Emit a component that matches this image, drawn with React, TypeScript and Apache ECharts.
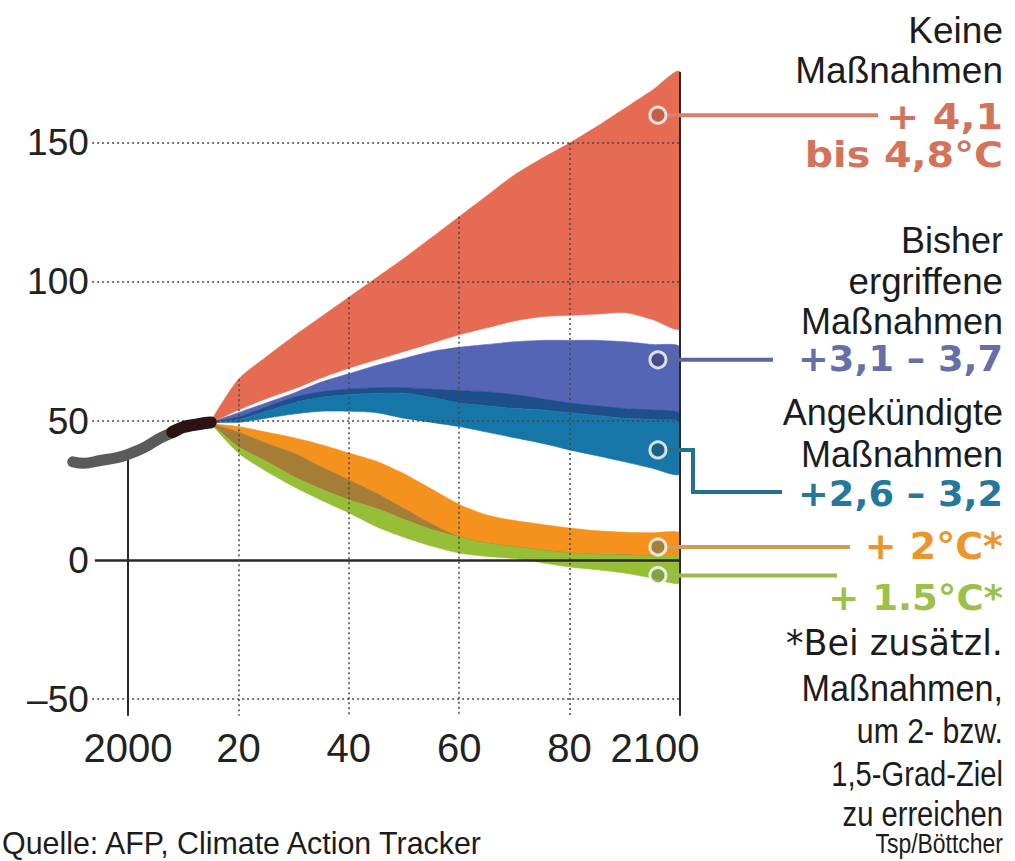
import React, { useEffect, useRef } from "react";
import * as echarts from "echarts";

// ---------- data ----------
const histYears = [1990, 1992, 1995, 1998, 2000, 2003, 2006, 2009];
const histValues = [35.3, 34.8, 35.8, 36.8, 38, 40.5, 44, 46.6];
const histRecentYears = [2008, 2010, 2012, 2014, 2015];
const histRecentValues = [46, 47.8, 48.6, 49.3, 49.5];

const years = [2015, 2020, 2025, 2030, 2035, 2040, 2045, 2050, 2055, 2060, 2065, 2070, 2075, 2080, 2085, 2090, 2095, 2100];
// "Keine Maßnahmen" range
const keineHi = [50, 65, 73, 80.5, 87.5, 94.5, 101.5, 108.5, 116, 123.5, 131, 138.5, 144.5, 150, 156, 162.5, 169, 175.5];
const keineLo = [49.5, 54, 58, 61.5, 65.5, 69, 72, 75, 78, 81, 83.5, 86, 87.5, 88, 88.5, 89, 86.5, 83.5];
// "Bisher ergriffene Maßnahmen" range
const bisherHi = [49.5, 53, 56.5, 60, 64, 67, 70, 72.5, 75, 76.5, 77.5, 78.5, 79, 79, 79, 78.5, 77.5, 76.5];
const bisherLo = [49.5, 50.5, 53.5, 56.5, 58.5, 59.5, 60, 60, 58.5, 56.5, 55.5, 54.5, 54, 53, 52, 51, 50.5, 49.5];
// "Angekündigte Maßnahmen" range
const angekHi = [49.5, 51.5, 55, 58.5, 60.5, 61.5, 62, 62, 61.5, 61, 60.5, 59.5, 58, 56.5, 55.5, 54.5, 54, 53];
const angekLo = [49.5, 49.5, 51, 52.5, 53.5, 53.5, 53, 51, 49.5, 48, 46, 44, 42, 39.6, 37.5, 35.3, 33, 31];
// "+2°C" range
const zweiHi = [49, 48, 46, 44, 41.5, 38.5, 35.5, 31, 25.5, 20, 16.2, 14.2, 12.8, 11.5, 10.5, 10, 9.8, 9.7];
const zweiLo = [49, 40.7, 35.5, 30, 25.5, 21.6, 18.5, 14.6, 11, 8.3, 6, 4.8, 3.5, 2.5, 2, 1.8, 1.4, 1];
// "+1.5°C" range
const einsHi = [49, 46, 42, 38.5, 33.5, 28.8, 24, 18.5, 13, 8.3, 6, 4.8, 3.5, 2.5, 2, 1.8, 1.4, 1];
const einsLo = [49, 38.5, 32, 26.4, 21.5, 17, 12, 8.2, 5, 2.5, 1.3, 0.5, -1, -2.5, -3.5, -4.7, -6.5, -8.3];

const markerYear = 2096;
const markerValues = [160, 72, 39.6, 4.7, -5.6];

const xTicks = [2000, 2020, 2040, 2060, 2080, 2100];
const yTicks = [-50, 0, 50, 100, 150];

// ---------- style ----------
const FONT = "'Liberation Sans', Arial, sans-serif";
const FONT_WIDE = "'DejaVu Sans', sans-serif";
const C = {
  red: "#E56C52",
  blue: "#5565B5",
  navy: "#1E4E8C",
  teal: "#1676A8",
  orange: "#F5921E",
  olive: "#A57D37",
  green: "#96BE37",
};

function band(name: string, lower: number[], upper: number[], color: string) {
  return {
    type: "custom",
    name,
    coordinateSystem: "cartesian2d",
    silent: true,
    z: 2,
    clip: true,
    encode: { x: 0, y: [1, 2] },
    data: years.map((y, i) => [y, lower[i], upper[i]]),
    renderItem: (params: any, api: any) => {
      if (params.dataIndex !== 0) return null;
      const top = years.map((y, i) => api.coord([y, upper[i]]));
      const bot = years.map((y, i) => api.coord([y, lower[i]])).reverse();
      return {
        type: "polygon",
        shape: { points: top.concat(bot), smooth: 0.25 },
        style: { fill: color, stroke: color, lineWidth: 0.6 },
      };
    },
  };
}

function minArr(a: number[], b: number[]) {
  return a.map((v, i) => Math.min(v, b[i]));
}

export default function App() {
  const ref = useRef<HTMLDivElement>(null);
  useEffect(() => {
    document.body.style.margin = "0";
    const chart = echarts.init(ref.current!, undefined, { renderer: "svg" });
    const idx = (y: number) => years.indexOf(y);
    const dotted = { type: [2, 3] as any, color: "rgba(70,70,70,0.75)", width: 2 };
    const solid = { type: "solid" as any, color: "#2a2a2a", width: 2 };
    const gridLines: any[] = [];
    [150, 100, 50, -50].forEach((v) =>
      gridLines.push([{ coord: [1993.5, v], lineStyle: dotted }, { coord: [2100, v] }])
    );
    gridLines.push([{ coord: [1994, 0], lineStyle: { ...solid, width: 2.5 } }, { coord: [2100, 0] }]);
    gridLines.push([
      { coord: [2000, histValues[histYears.indexOf(2000)]], lineStyle: solid },
      { coord: [2000, -56] },
    ]);
    gridLines.push([{ coord: [2100, keineHi[idx(2100)]], lineStyle: solid }, { coord: [2100, -56] }]);
    [2020, 2040, 2060, 2080].forEach((y) =>
      gridLines.push([{ coord: [y, keineHi[idx(y)]], lineStyle: dotted }, { coord: [y, -56] }])
    );

    const option: any = {
      animation: false,
      backgroundColor: "#ffffff",
      grid: { left: 72.8, right: 335, top: 70.7, bottom: 145.3 },
      xAxis: {
        type: "value",
        min: 1990,
        max: 2100,
        axisLine: { show: false },
        axisTick: { show: false },
        splitLine: { show: false },
        axisLabel: {
          customValues: xTicks,
          fontSize: 40,
          fontFamily: FONT,
          color: "#222",
          margin: 12,
          formatter: (v: number) =>
            v === 2000 ? "2000" : v === 2100 ? "{r|2100}" : String(v).slice(2),
          rich: { r: { fontSize: 40, fontFamily: FONT, color: "#222", padding: [0, 50, 0, 0] } },
        },
      },
      yAxis: {
        type: "value",
        min: -56,
        max: 176,
        axisLine: { show: false },
        axisTick: { show: false },
        splitLine: { show: false },
        axisLabel: {
          customValues: yTicks,
          fontSize: 37,
          fontFamily: FONT,
          color: "#222",
          margin: -16,
          formatter: (v: number) => (v < 0 ? "–" + Math.abs(v) : String(v)),
        },
      },
      series: [
        band("keine", keineLo, keineHi, C.red),
        band("bisher", angekHi, bisherHi, C.blue),
        band("overlapBlue", bisherLo, angekHi, C.navy),
        band("angek", angekLo, bisherLo, C.teal),
        band("zwei", einsHi, zweiHi, C.orange),
        band("overlapGreen", zweiLo, einsHi, C.olive),
        band("eins", einsLo, minArr(zweiLo, einsHi), C.green),
        {
          type: "line",
          name: "hist",
          data: histYears.map((y, i) => [y, histValues[i]]),
          symbol: "none",
          smooth: 0.4,
          silent: true,
          z: 8,
          lineStyle: { color: "#5a5a5a", width: 11, cap: "round", join: "round" },
          markLine: {
            silent: true,
            symbol: "none",
            label: { show: false },
            z: 6,
            data: gridLines,
          },
        },
        {
          type: "line",
          name: "histRecent",
          data: histRecentYears.map((y, i) => [y, histRecentValues[i]]),
          symbol: "none",
          smooth: 0.4,
          silent: true,
          z: 9,
          lineStyle: { color: "#2d1313", width: 12, cap: "round", join: "round" },
        },
        {
          type: "scatter",
          name: "markers",
          data: markerValues.map((v) => [markerYear, v]),
          symbol: "circle",
          symbolSize: 16,
          silent: true,
          z: 20,
          itemStyle: {
            borderColor: "#ffffff",
            borderWidth: 3,
            color: (p: any) => ["#b85a48", "#3f4a82", "#1d5c7a", "#8e7d45", "#7c9a4a"][p.dataIndex],
          },
        },
      ],
    };
    chart.setOption(option);

    const px = markerValues.map((v) => chart.convertToPixel({ gridIndex: 0 }, [markerYear, v]) as number[]);
    const lineColors = ["#D8806C", "#5D6797", "#24708F", "#D49B55", "#9BBA55"];
    const lineEnds = [878, 773, 782, 850, 837];
    const conn: any[] = px.map((p, i) => {
      if (i === 2) {
        const ex = 693;
        const ty = 492;
        return {
          type: "polyline",
          z: 15,
          shape: { points: [[p[0] + 8, p[1]], [ex, p[1]], [ex, ty], [lineEnds[i], ty]] },
          style: { stroke: lineColors[i], lineWidth: 4, fill: "none" },
        };
      }
      return {
        type: "line",
        z: 15,
        shape: { x1: p[0] + 8, y1: p[1], x2: lineEnds[i], y2: p[1] },
        style: { stroke: lineColors[i], lineWidth: 4 },
      };
    });

    const R = 1003;
    const t = (
      text: string,
      y: number,
      opts: { size?: number; family?: string; weight?: string; color?: string; sx?: number; x?: number; align?: string } = {}
    ) => ({
      type: "text",
      x: opts.x ?? R,
      y,
      scaleX: opts.sx ?? 1,
      z: 30,
      style: {
        text,
        x: 0,
        y: 0,
        align: opts.align ?? "right",
        verticalAlign: "middle",
        fill: opts.color ?? "#1c1c1c",
        font: `${opts.weight ?? "normal"} ${opts.size ?? 36}px ${opts.family ?? FONT}`,
      },
    });
    const BOLD = { family: FONT_WIDE, weight: "bold" };
    const texts = [
      t("Keine", 30, { size: 37 }),
      t("Maßnahmen", 70, { size: 37 }),
      t("+ 4,1", 117, { ...BOLD, size: 36, color: "#D4735C", sx: 1.1 }),
      t("bis 4,8°C", 155, { ...BOLD, size: 36, color: "#D4735C", sx: 1.1 }),
      t("Bisher", 240),
      t("ergriffene", 282, { sx: 1.02 }),
      t("Maßnahmen", 321),
      t("+3,1 – 3,7", 359, { ...BOLD, size: 35, sx: 1.05, color: "#6670A8" }),
      t("Angekündigte", 412),
      t("Maßnahmen", 454),
      t("+2,6 – 3,2", 494, { ...BOLD, size: 35, sx: 1.05, color: "#24789C" }),
      t("+ 2°C*", 546, { ...BOLD, size: 38, color: "#EB962D" }),
      t("+ 1.5°C*", 598, { ...BOLD, size: 36, sx: 1.03, color: "#9CC048" }),
      t("*Bei zusätzl.", 643, { family: FONT_WIDE, size: 35 }),
      t("Maßnahmen,", 688, { sx: 0.95 }),
      t("um 2- bzw.", 731, { sx: 0.84 }),
      t("1,5-Grad-Ziel", 773, { sx: 0.81 }),
      t("zu erreichen", 813, { sx: 0.81 }),
      t("Tsp/Böttcher", 843, { size: 27, sx: 0.85 }),
      t("Quelle: AFP, Climate Action Tracker", 843, { size: 31, x: 2, align: "left", sx: 0.98 }),
    ];
    chart.setOption({ graphic: [...conn, ...texts] });

    return () => chart.dispose();
  }, []);
  return <div ref={ref} style={{ width: 1015, height: 861 }} />;
}
